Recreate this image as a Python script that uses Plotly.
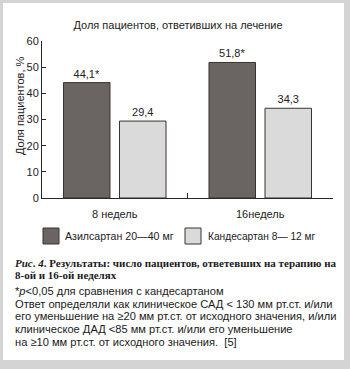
import plotly.graph_objects as go

# ---- data ----
categories = ["8 недель", "16недель"]
series_names = ["Азилсартан 20—40 мг", "Кандесартан 8— 12 мг"]
azilsartan = [44.1, 51.8]
candesartan = [29.4, 34.3]
azil_sig = ["*", "*"]
cand_sig = ["", ""]
y_ticks = [0, 10, 20, 30, 40, 50, 60]

title_text = "Доля пациентов, ответивших на лечение"
y_title = "Доля пациентов, %"
caption_lines = [
    "<b><i>Рис</i>. <i>4</i>. Результаты: число пациентов, ответевших на терапию на</b>",
    "<b>8-ой и 16-ой неделях</b>",
]
note_lines = [
    "*<i>p</i>&lt;0,05 для сравнения с кандесартаном",
    "Ответ определяли как клиническое САД &lt; 130 мм рт.ст. и/или",
    "его уменьшение на ≥20 мм рт.ст. от исходного значения, и/или",
    "клиническое ДАД &lt;85 мм рт.ст. и/или его уменьшение",
    "на ≥10 мм рт.ст. от исходного значения.  [5]",
]

# ---- style ----
W, H = 350, 369
L, R, T, B = 42, 333, 41, 198
DARK = "#6a6462"
LIGHT = "#dadada"
EDGE = "#3a322f"
AXIS = "#2e2623"
FRAME = "#d4d4d4"
SANS = "Liberation Sans, Arial, sans-serif"
SERIF = "Liberation Serif, Times New Roman, serif"


def px(x):
    return (x - L) / (R - L)


def py(y):
    return (B - y) / (B - T)


def fmt(v, s):
    return f"{v:.1f}".replace(".", ",") + s


fig = go.Figure()
fig.add_trace(go.Bar(
    x=categories, y=azilsartan, name=series_names[0],
    marker=dict(color=DARK, line=dict(color=EDGE, width=1)),
    text=[fmt(v, s) for v, s in zip(azilsartan, azil_sig)],
    textposition="outside", cliponaxis=False,
    textfont=dict(family=SANS, size=11, color="#222"),
))
fig.add_trace(go.Bar(
    x=categories, y=candesartan, name=series_names[1],
    marker=dict(color=LIGHT, line=dict(color=EDGE, width=1)),
    text=[fmt(v, s) for v, s in zip(candesartan, cand_sig)],
    textposition="outside", cliponaxis=False,
    textfont=dict(family=SANS, size=11, color="#222"),
))

shapes = [
    dict(type="rect", xref="paper", yref="paper",
         x0=px(3), x1=px(344), y0=py(3), y1=py(360),
         fillcolor="white", line=dict(width=0), layer="below"),
    dict(type="rect", xref="paper", yref="paper",
         x0=px(43), x1=px(59), y0=py(228), y1=py(244),
         fillcolor=DARK, line=dict(color=EDGE, width=1)),
    dict(type="rect", xref="paper", yref="paper",
         x0=px(185), x1=px(201), y0=py(228), y1=py(244),
         fillcolor=LIGHT, line=dict(color=EDGE, width=1)),
]

annotations = [
    dict(text=y_title, textangle=-90, xref="paper", yref="paper",
         x=px(12), y=py(106), showarrow=False,
         font=dict(family=SANS, size=11, color="#222")),
    dict(text=series_names[0], xref="paper", yref="paper", x=px(63), y=py(236),
         xanchor="left", yanchor="middle", showarrow=False,
         font=dict(family=SANS, size=10.6, color="#222")),
    dict(text=series_names[1], xref="paper", yref="paper", x=px(206), y=py(236),
         xanchor="left", yanchor="middle", showarrow=False,
         font=dict(family=SANS, size=10.2, color="#222")),
]
cap_y = [263, 275]
for t, yy in zip(caption_lines, cap_y):
    annotations.append(dict(text=t, xref="paper", yref="paper", x=px(13), y=py(yy),
                            xanchor="left", yanchor="middle", showarrow=False,
                            font=dict(family=SERIF, size=11, color="#1a1a1a")))
note_y = [291, 303.5, 316, 329, 341.5]
for t, yy in zip(note_lines, note_y):
    annotations.append(dict(text=t, xref="paper", yref="paper", x=px(13), y=py(yy),
                            xanchor="left", yanchor="middle", showarrow=False,
                            font=dict(family=SANS, size=11.1, color="#1a1a1a")))

fig.update_layout(
    width=W, height=H,
    margin=dict(l=L, r=W - R, t=T, b=H - B, pad=0),
    paper_bgcolor=FRAME, plot_bgcolor="white",
    showlegend=False,
    barmode="group", bargap=0.23, bargroupgap=0.17,
    title=dict(text=title_text, xref="paper", x=px(178), xanchor="center",
               yref="container", y=1 - 25 / H, yanchor="middle",
               font=dict(family=SANS, size=11, color="#222")),
    shapes=shapes, annotations=annotations,
    xaxis=dict(showline=True, linecolor=AXIS, linewidth=1, ticks="inside",
               tickson="boundaries", ticklen=5, tickcolor=AXIS,
               tickfont=dict(family=SANS, size=11, color="#222"),
               ticklabelstandoff=6, showgrid=False, zeroline=False, fixedrange=True),
    yaxis=dict(range=[0, 60], tickvals=y_ticks, showline=True, linecolor=AXIS,
               linewidth=1, ticks="inside", ticklen=4, tickcolor=AXIS,
               tickfont=dict(family=SANS, size=11, color="#222"),
               showgrid=False, zeroline=False, fixedrange=True),
)

fig.write_html("out.html")
